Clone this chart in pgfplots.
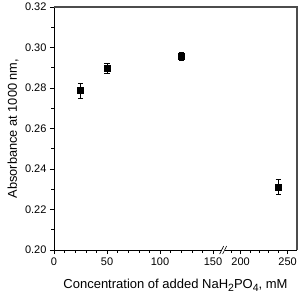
\documentclass[border=0pt]{standalone}
\usepackage{pgfplots}
\pgfplotsset{compat=1.18}
\usepackage{fontspec}
\setmainfont{Liberation Sans}
\usetikzlibrary{calc}
\newcommand{\sub}[1]{\raisebox{-2.6pt}{\fontsize{10.5}{12}\selectfont #1}}
\begin{document}
\begin{tikzpicture}
\begin{axis}[
  name=ax,
  scale only axis,
  width=243pt, height=243pt,
  x coord trafo/.code={\pgfmathparse{#1<170 ? #1 : 160+(#1-182)*0.887}},
  xmin=0, xmax=260,
  ymin=0.20, ymax=0.32,
  axis x line*=bottom, axis y line*=left,
  axis line style={line width=0.6pt},
  tick align=outside,
  major tick length=4pt, minor tick length=2.5pt,
  tick style={line width=0.6pt, black},
  xtick={0,50,100,150,200,250},
  xticklabels={0,50,100,150,200,250},
  minor xtick={10,20,30,40,60,70,80,90,110,120,130,140,190,210,220,230,240},
  ytick={0.20,0.22,0.24,0.26,0.28,0.30,0.32},
  minor y tick num=1,
  yticklabel style={/pgf/number format/.cd, fixed, fixed zerofill, precision=2, assume math mode=true},
  xticklabel style={/pgf/number format/assume math mode=true},
  tick label style={font=\fontsize{11}{13}\selectfont},
  every axis x label/.style={at={(axis description cs:0.5,0)}, anchor=center, yshift=-35pt, font=\fontsize{13}{15}\selectfont},
  every axis y label/.style={at={(axis description cs:0,0.5)}, anchor=center, rotate=90, yshift=41pt, font=\fontsize{12.8}{15}\selectfont},
  xlabel={Concentration of added NaH\sub{2}PO\sub{4}, mM},
  ylabel={Absorbance at 1000 nm,},
  clip=false,
]
\addplot[only marks, mark=square*, mark size=3pt, black,
  error bars/.cd, y dir=both, y explicit, error mark options={rotate=90, mark size=2.6pt, line width=0.5pt}, error bar style={line width=0.5pt}]
  table[x=x, y=y, y error=e] {
x y e
25 0.2787 0.0036
50 0.2897 0.0025
120 0.2957 0.0022
240 0.2310 0.0037
};
\end{axis}
\draw[gray!60!black, line width=1.3pt] (ax.north west) -- (ax.north east) -- (ax.south east);
\coordinate (b1) at ($(ax.south west)!0.690!(ax.south east)$);
\coordinate (b2) at ($(ax.south west)!0.702!(ax.south east)$);
\fill[white] ($(b1)+(0,-1pt)$) rectangle ($(b2)+(0,1pt)$);
\draw[line width=0.6pt] ($(b1)+(-2pt,-4pt)$) -- ($(b1)+(2pt,4pt)$);
\draw[line width=0.6pt] ($(b2)+(-2pt,-4pt)$) -- ($(b2)+(2pt,4pt)$);
\pgfresetboundingbox
\path[use as bounding box] ($(ax.south west)+(-54pt,-44pt)$) rectangle ($(ax.north east)+(2pt,7pt)$);
\end{tikzpicture}
\end{document}
